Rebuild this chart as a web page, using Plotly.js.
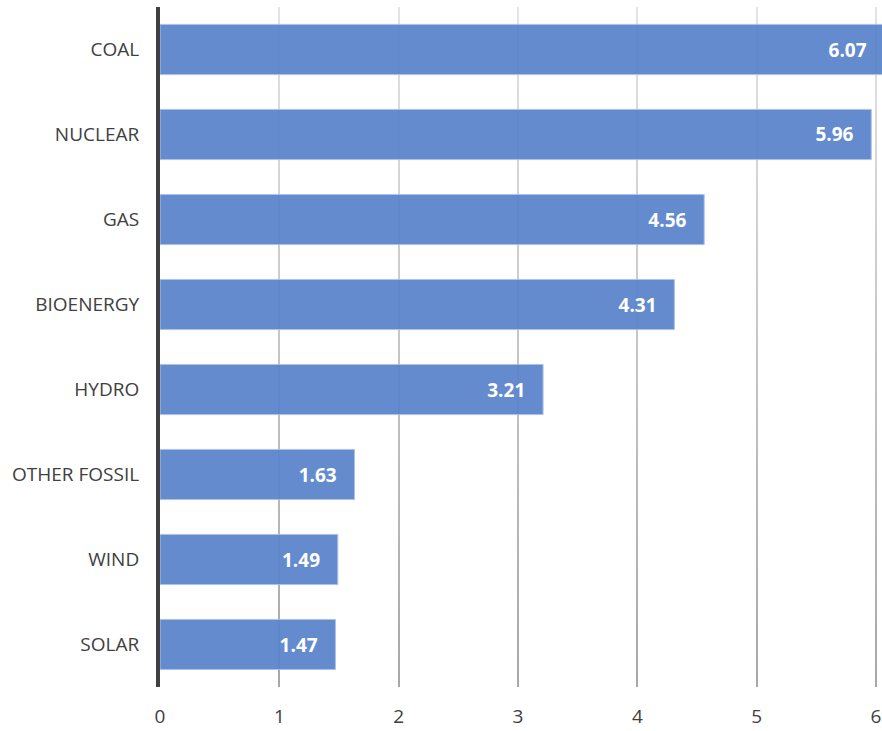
<!DOCTYPE html>
<html>
<head>
<meta charset="utf-8">
<script src="https://cdn.plot.ly/plotly-3.0.1.min.js"></script>
<style>
  html, body { margin: 0; padding: 0; background: #ffffff; }
  #chart { width: 882px; height: 731px; }
</style>
</head>
<body>
<div id="chart"></div>
<script>
// Electricity sources, top to bottom
const sources = ["COAL", "NUCLEAR", "GAS", "BIOENERGY", "HYDRO", "OTHER FOSSIL", "WIND", "SOLAR"];
const values = [6.07, 5.96, 4.56, 4.31, 3.21, 1.63, 1.49, 1.47];
const xTicks = [0, 1, 2, 3, 4, 5, 6];

const textColor = "#404040";
const fontFamily = "'Open Sans', 'Liberation Sans', sans-serif";
const pad = "\u00a0\u00a0\u00a0";

const trace = {
  type: "bar",
  orientation: "h",
  y: sources,
  x: values,
  marker: {
    color: "#5b85cc",
    opacity: 0.95,
    line: { color: "#a9bfe6", width: 1 }
  },
  texttemplate: "%{x:.2f}" + pad,
  textposition: "inside",
  insidetextanchor: "end",
  constraintext: "none",
  textfont: { color: "#ffffff", size: 19, family: fontFamily, weight: "bold" },
  hoverinfo: "skip"
};

const layout = {
  width: 882,
  height: 731,
  margin: { l: 160, r: 0, t: 7, b: 44 },
  paper_bgcolor: "#ffffff",
  plot_bgcolor: "#ffffff",
  showlegend: false,
  bargap: 0.41,
  font: { family: fontFamily, color: textColor, size: 18 },
  xaxis: {
    range: [0, 6.05],
    tickvals: xTicks,
    ticktext: xTicks.map(String),
    showgrid: true,
    gridcolor: "#c4c4c4",
    gridwidth: 2,
    zeroline: false,
    showline: false,
    ticks: "",
    ticklabelstandoff: 16,
    tickfont: { size: 19, color: textColor, family: fontFamily },
    fixedrange: true
  },
  yaxis: {
    categoryorder: "array",
    categoryarray: sources.slice().reverse(),
    autorange: true,
    showgrid: false,
    zeroline: false,
    showline: true,
    linecolor: "#404040",
    linewidth: 4,
    ticks: "",
    ticklabelstandoff: 13,
    tickfont: { size: 19, color: textColor, family: fontFamily },
    fixedrange: true
  }
};

Plotly.newPlot("chart", [trace], layout, { displayModeBar: false, staticPlot: true }).then(function (gd) {
  // Vertical grid lines fade from light at the top to darker at the bottom
  const svg = gd.querySelector("svg.main-svg");
  const ns = "http://www.w3.org/2000/svg";
  let defs = svg.querySelector("defs");
  if (!defs) { defs = document.createElementNS(ns, "defs"); svg.insertBefore(defs, svg.firstChild); }
  const plotH = gd._fullLayout._size.h;
  const grad = document.createElementNS(ns, "linearGradient");
  grad.setAttribute("id", "gridFade");
  grad.setAttribute("gradientUnits", "userSpaceOnUse");
  grad.setAttribute("x1", "0"); grad.setAttribute("y1", "0");
  grad.setAttribute("x2", "0"); grad.setAttribute("y2", String(plotH));
  [["0", "#e4e4e4"], ["1", "#a8a8a8"]].forEach(function (s) {
    const stop = document.createElementNS(ns, "stop");
    stop.setAttribute("offset", s[0]);
    stop.setAttribute("stop-color", s[1]);
    grad.appendChild(stop);
  });
  defs.appendChild(grad);
  gd.querySelectorAll("path.xgrid").forEach(function (p) {
    p.style.stroke = "url(#gridFade)";
  });
});
</script>
</body>
</html>
